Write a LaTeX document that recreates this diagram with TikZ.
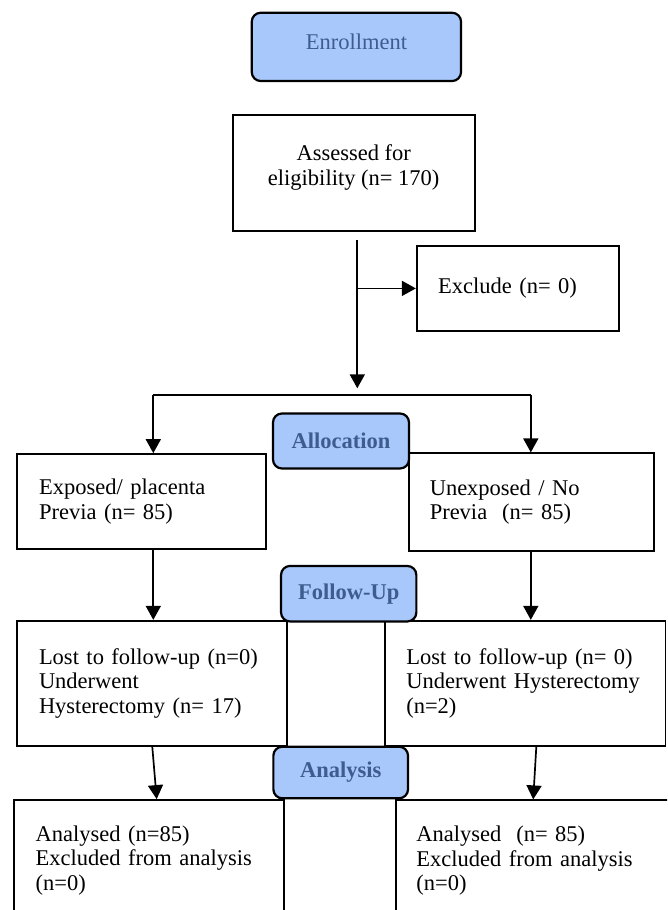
\documentclass[tikz,border=0pt]{standalone}
\usepackage{fontspec}
\setmainfont{Liberation Serif}
\usetikzlibrary{arrows.meta}
\usetikzlibrary{positioning}

\definecolor{stagefill}{RGB}{168,199,250}
\definecolor{stagetext}{RGB}{62,92,142}
\newcommand{\boxfont}{\fontsize{22.5}{24.5}\selectfont}

\tikzset{
  entry/.style={draw=black,line width=1.8pt,rectangle,align=left,inner ysep=0pt,font=\boxfont},
  stage/.style={draw=black,line width=2.2pt,rectangle,rounded corners=9pt,fill=stagefill,text=stagetext,align=center,inner sep=0pt,font=\boxfont},
  link/.style={draw=black,line width=1.7pt,-{Triangle[length=14pt,width=15pt]}},
  bar/.style={draw=black,line width=1.7pt}
}

\begin{document}
\begin{tikzpicture}[x=1pt,y=-1pt]
\useasboundingbox (0,0) rectangle (667,910);
\clip (0,0) rectangle (667,910);

% boxes
\node[entry,align=center,minimum width=242,minimum height=116] (assess) at (353.7,173) {Assessed for\\eligibility (n= 170)\\[-9pt]};
\node[entry,minimum height=85.3,inner xsep=21.3,text width=159.7] (excl) at (517.9,288.4) {Exclude (n= 0)};
\node[entry,minimum height=95.3,inner xsep=21.7,text width=205.3] (expo) at (141.7,501.7) {Exposed/ placenta\\Previa (n= 85)};
\node[entry,minimum height=97.4,inner xsep=20.7,text width=203.3] (unexp) at (531.4,502) {Unexposed / No\\Previa\ \ (n= 85)};
\node[entry,minimum height=125.3,inner xsep=21.7,text width=226.6] (lostL) at (152.3,683.4) {Lost to follow-up (n=0)\\Underwent\\Hysterectomy (n= 17)};
\node[entry,minimum height=125.3,inner xsep=21,text width=238.2] (lostR) at (525.4,683.4) {Lost to follow-up (n= 0)\\Underwent Hysterectomy\\(n=2)};
\node[entry,minimum height=121,inner xsep=21.7,text width=226.6] (anaL) at (149,860.5) {Analysed (n=85)\\Excluded from analysis\\(n=0)};
\node[entry,minimum height=121,inner xsep=20,text width=233.7] (anaR) at (533.2,860.8) {Analysed\ \ (n= 85)\\Excluded from analysis\\(n=0)};

% connectors
\coordinate (split) at (357.3,240);
\coordinate (tee) at (357.3,288.4);
\coordinate (stop) at (357.3,388.3);
\coordinate (barL) at (153.3,395);
\coordinate (barR) at (530.8,395);
\draw[link] (split) -- (stop);
\draw[link] (tee) -- (excl.west);
\draw[bar] (barL) -- (barR);
\draw[link] (barL) -- (barL |- expo.north);
\draw[link] (barR) -- (barR |- unexp.north);
\draw[link] (barL |- expo.south) -- (barL |- lostL.north);
\draw[link] (barR |- unexp.south) -- (barR |- lostR.north);
\draw[link] (lostL.south) -- ([xshift=7.7pt]anaL.north);
\draw[link] ([xshift=10.9pt]lostR.south) -- (anaR.north);

% stages
\node[stage,minimum width=209.3,minimum height=68.3] (enrol) at (356.4,46.9) {Enrollment\\[-15pt]};
\node[stage,minimum width=136,minimum height=55,font=\boxfont\bfseries] (alloc) at (341,441) {Allocation};
\node[stage,minimum width=135.3,minimum height=55.5,font=\boxfont\bfseries] (follow) at (348.7,593.7) {Follow-Up};
\node[stage,minimum width=134.7,minimum height=51.6,font=\boxfont\bfseries] (analysis) at (340.7,772.5) {Analysis};

\end{tikzpicture}
\end{document}
